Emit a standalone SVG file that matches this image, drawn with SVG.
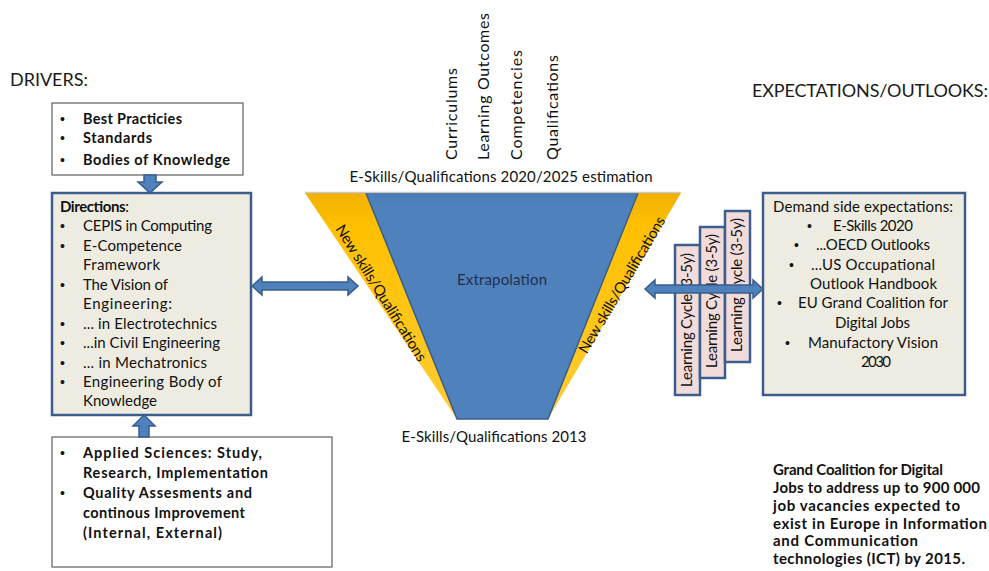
<svg xmlns="http://www.w3.org/2000/svg" width="989" height="571" viewBox="0 0 989 571">
<defs>
<linearGradient id="gy" x1="0" y1="0" x2="0" y2="1">
<stop offset="0" stop-color="#f2b000"/>
<stop offset="0.15" stop-color="#ffc000"/>
<stop offset="1" stop-color="#ffcc33"/>
</linearGradient>
<linearGradient id="gb" x1="0" y1="0" x2="0" y2="1">
<stop offset="0" stop-color="#4a7bb7"/>
<stop offset="0.05" stop-color="#4f81bd"/>
<stop offset="1" stop-color="#4f81bd"/>
</linearGradient>
</defs>
<style>
text{font-family:Lato,"Liberation Sans",sans-serif;fill:#111}
.t{font-size:15px}
.b{font-size:14.5px;font-weight:bold}
.n{font-size:15px;font-weight:bold}
.h{font-size:18px;fill:#1a1a1a}
.v{font-size:16px}
.u{font-family:"Liberation Sans",sans-serif;font-size:14px}
.wbox{fill:#fff;stroke:#3f3f3f;stroke-width:1}
.gbox{fill:#eeece1;stroke:#3b5e8c;stroke-width:2.5}
.lc{fill:#f2dcdb;stroke:#3b5e8c;stroke-width:2.5}
.arr{fill:#4f81bd;stroke:#385d8a;stroke-width:1.5}
.c{text-anchor:middle}
</style>

<text class="h" x="10" y="86" textLength="78">DRIVERS:</text>
<text class="h" x="752" y="97" textLength="236">EXPECTATIONS/OUTLOOKS:</text>

<g id="funnel">
<polygon points="305,193 366,193 457,419" fill="url(#gy)"/>
<polygon points="638,193 681,193 548,419" fill="url(#gy)"/>
<polygon points="366,193 638,193 548,419 457,419" fill="url(#gb)" stroke="#385d8a" stroke-width="1.5"/>
<line x1="305" y1="192.5" x2="681" y2="192.5" stroke="#c8c8c8" stroke-width="1.5"/>
<text class="t c" x="502" y="285" style="fill:#1f3050" textLength="90">Extrapolation</text>
<text class="t c" transform="translate(381,293) rotate(58)" y="5" textLength="158">New skills/Qualifications</text>
<text class="t c" transform="translate(622,285) rotate(-59.5)" y="5" textLength="156">New skills/Qualifications</text>
<text class="t c" x="501" y="182" textLength="303">E-Skills/Qualifications 2020/2025 estimation</text>
<text class="t c" x="494" y="442" textLength="185">E-Skills/Qualifications 2013</text>
</g>

<g id="top-labels">
<text class="v" transform="translate(457,160) rotate(-90)" textLength="92">Curriculums</text>
<text class="v" transform="translate(489,160) rotate(-90)" textLength="147">Learning Outcomes</text>
<text class="v" transform="translate(522,160) rotate(-90)" textLength="110">Competencies</text>
<text class="v" transform="translate(558,160) rotate(-90)" textLength="105">Qualifications</text>
</g>

<g id="sources">
<rect class="wbox" x="52" y="103" width="191" height="72"/>
<text class="u" x="60" y="124">•</text><text class="b" x="83" y="124" textLength="99">Best Practicies</text>
<text class="u" x="60" y="143">•</text><text class="b" x="83" y="143" textLength="69">Standards</text>
<text class="u" x="60" y="165">•</text><text class="b" x="83" y="165" textLength="147">Bodies of Knowledge</text>
</g>

<g id="directions">
<rect class="gbox" x="52" y="193" width="199" height="222"/>
<text class="t" x="60" y="212" textLength="69"><tspan font-weight="bold">Directions</tspan>:</text>
<text class="u" x="60" y="231">•</text><text class="t" x="83" y="231" textLength="129">CEPIS in Computing</text>
<text class="u" x="60" y="251">•</text><text class="t" x="83" y="251" textLength="99">E-Competence</text>
<text class="t" x="83" y="270" textLength="77">Framework</text>
<text class="u" x="60" y="290">•</text><text class="t" x="83" y="290" textLength="85">The Vision of</text>
<text class="t" x="83" y="309" textLength="89">Engineering:</text>
<text class="u" x="60" y="329">•</text><text class="t" x="83" y="329" textLength="134">... in Electrotechnics</text>
<text class="u" x="60" y="348">•</text><text class="t" x="83" y="348" textLength="137">...in Civil Engineering</text>
<text class="u" x="60" y="368">•</text><text class="t" x="83" y="368" textLength="124">... in Mechatronics</text>
<text class="u" x="60" y="387">•</text><text class="t" x="83" y="387" textLength="139">Engineering Body of</text>
<text class="t" x="83" y="406" textLength="74">Knowledge</text>
</g>

<g id="applied">
<rect class="wbox" x="52" y="437" width="280" height="130"/>
<text class="u" x="60" y="458">•</text><text class="b" x="83" y="458" textLength="179">Applied Sciences: Study,</text>
<text class="b" x="83" y="478" textLength="185">Research, Implementation</text>
<text class="u" x="60" y="498">•</text><text class="b" x="83" y="498" textLength="169">Quality Assesments and</text>
<text class="b" x="83" y="518" textLength="162">continous Improvement</text>
<text class="b" x="83" y="538" textLength="139">(Internal, External)</text>
</g>

<g id="learning-cycles">
<rect class="lc" x="675" y="245" width="25" height="150"/>
<text class="t c" transform="translate(692,320) rotate(-90)" textLength="134">Learning Cycle (3-5y)</text>
<rect class="lc" x="700" y="227" width="25" height="151"/>
<text class="t c" transform="translate(717,301) rotate(-90)" textLength="134">Learning Cycle (3-5y)</text>
<rect class="lc" x="725" y="211" width="25" height="151"/>
<text class="t c" transform="translate(742,285) rotate(-90)" textLength="134">Learning Cycle (3-5y)</text>
</g>

<g id="expectations">
<rect class="gbox" x="763" y="193" width="202" height="202"/>
<text class="t c" x="863" y="212" textLength="180">Demand side expectations:</text>
<text class="u" x="807" y="231">•</text><text class="t" x="833" y="231" textLength="80">E-Skills 2020</text>
<text class="u" x="794" y="250">•</text><text class="t" x="816" y="250" textLength="114">...OECD Outlooks</text>
<text class="u" x="789" y="270">•</text><text class="t" x="811" y="270" textLength="124">...US Occupational</text>
<text class="t" x="810" y="289" textLength="127">Outlook Handbook</text>
<text class="u" x="777" y="308">•</text><text class="t" x="798" y="308" textLength="150">EU Grand Coalition for</text>
<text class="t" x="835" y="328" textLength="75">Digital Jobs</text>
<text class="u" x="785" y="348">•</text><text class="t" x="808" y="348" textLength="130">Manufactory Vision</text>
<text class="t" x="861" y="367" textLength="30">2030</text>
</g>

<g id="note">
<text class="n" x="773" y="475" textLength="170">Grand Coalition for Digital</text>
<text class="n" x="773" y="493" textLength="207">Jobs to address up to 900 000</text>
<text class="n" x="773" y="511" textLength="187">job vacancies expected to</text>
<text class="n" x="773" y="529" textLength="214">exist in Europe in Information</text>
<text class="n" x="773" y="546" textLength="145">and Communication</text>
<text class="n" x="773" y="564" textLength="192">technologies (ICT) by 2015.</text>
</g>

<g id="connectors">
<path class="arr" d="M144,175 L156,175 L156,182 L162,182 L150,193 L138,182 L144,182 Z"/>
<path class="arr" d="M139,437 L149,437 L149,426 L155,426 L144,415 L133,426 L139,426 Z"/>
<path class="arr" d="M252,286 L262,277 L262,282 L348,282 L348,277 L358,286 L348,295 L348,290 L262,290 L262,295 Z"/>
<path class="arr" d="M645,289 L655,280 L655,285 L753,285 L753,280 L763,289 L753,298 L753,293 L655,293 L655,298 Z"/>
</g>
</svg>
